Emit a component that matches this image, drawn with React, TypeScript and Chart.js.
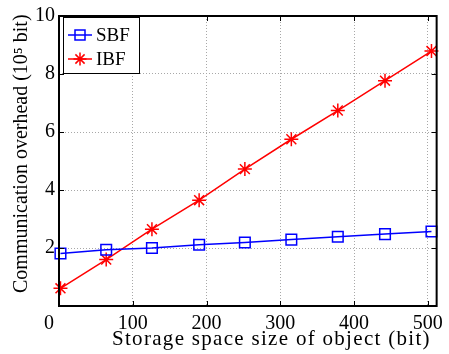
import React, { useEffect, useRef } from "react";
import { Chart, registerables } from "chart.js";
Chart.register(...registerables);

const xValues = [2, 64, 126, 190, 252, 315, 378, 442, 505];
const sbfValues = [1.81, 1.94, 2.0, 2.11, 2.19, 2.29, 2.39, 2.48, 2.57];
const ibfValues = [0.61, 1.6, 2.65, 3.65, 4.72, 5.75, 6.74, 7.77, 8.79];
const xTicks = [0, 100, 200, 300, 400, 500];
const yTicks = [0, 2, 4, 6, 8, 10];
const seriesNames = ["SBF", "IBF"];
const xTitle = "Storage space size of object (bit)";
const yTitle = "Communication overhead (10\u2075 bit)";

const FONT = "'Liberation Serif', 'Times New Roman', serif";
const BLUE = "#0000ff";
const RED = "#ff0000";

function drawMarker(ctx: CanvasRenderingContext2D, style: string, x: number, y: number, color: string) {
  ctx.save();
  ctx.strokeStyle = color;
  ctx.lineWidth = 1.5;
  ctx.beginPath();
  if (style === "rect") {
    ctx.rect(x - 5, y - 5, 10, 10);
  } else {
    const r = 6.5;
    for (let i = 0; i < 4; i++) {
      const a = (i * Math.PI) / 4;
      ctx.moveTo(x - Math.cos(a) * r, y - Math.sin(a) * r);
      ctx.lineTo(x + Math.cos(a) * r, y + Math.sin(a) * r);
    }
  }
  ctx.stroke();
  ctx.restore();
}

const framePlugin = {
  id: "frame",
  afterDraw(chart: any) {
    const { ctx, chartArea: a, scales } = chart;
    ctx.save();
    // inward tick marks
    ctx.strokeStyle = "#000";
    ctx.lineWidth = 1;
    const tl = 5;
    ctx.beginPath();
    for (const v of xTicks) {
      const px = Math.round(scales.x.getPixelForValue(v)) + 0.5;
      ctx.moveTo(px, a.bottom);
      ctx.lineTo(px, a.bottom - tl);
      ctx.moveTo(px, a.top);
      ctx.lineTo(px, a.top + tl);
    }
    for (const v of yTicks) {
      const py = Math.round(scales.y.getPixelForValue(v)) + 0.5;
      ctx.moveTo(a.left, py);
      ctx.lineTo(a.left + tl, py);
      ctx.moveTo(a.right, py);
      ctx.lineTo(a.right - tl, py);
    }
    ctx.stroke();
    // box
    ctx.lineWidth = 2;
    ctx.strokeRect(a.left, a.top, a.right - a.left, a.bottom - a.top);

    // axis titles
    ctx.fillStyle = "#000";
    ctx.font = `21px ${FONT}`;
    ctx.textAlign = "left";
    ctx.textBaseline = "alphabetic";
    (ctx as any).letterSpacing = "1.3px";
    ctx.fillText(xTitle, 112, 345);
    (ctx as any).letterSpacing = "0px";
    ctx.font = `20px ${FONT}`;
    ctx.save();
    ctx.translate(27, 293);
    ctx.rotate(-Math.PI / 2);
    ctx.fillText(yTitle, 0, 0);
    ctx.restore();

    // legend
    const lx = a.left + 4;
    const ly = a.top + 1;
    const lw = 76;
    const lh = 56;
    ctx.fillStyle = "#fff";
    ctx.fillRect(lx, ly, lw, lh);
    ctx.lineWidth = 1;
    ctx.strokeStyle = "#000";
    ctx.strokeRect(lx + 0.5, ly + 0.5, lw, lh);
    const colors = [BLUE, RED];
    const styles = ["rect", "star"];
    ctx.font = `19px ${FONT}`;
    ctx.textBaseline = "middle";
    ctx.textAlign = "left";
    seriesNames.forEach((name, i) => {
      const yy = ly + 18 + i * 24;
      ctx.strokeStyle = colors[i];
      ctx.lineWidth = 1.5;
      ctx.beginPath();
      ctx.moveTo(lx + 5, yy);
      ctx.lineTo(lx + 29, yy);
      ctx.stroke();
      drawMarker(ctx, styles[i], lx + 17, yy, colors[i]);
      ctx.fillStyle = "#000";
      ctx.fillText(name, lx + 33, yy + 1);
    });
    ctx.restore();
  },
};

export default function App() {
  const ref = useRef<HTMLCanvasElement>(null);
  useEffect(() => {
    if (!ref.current) return;
    const chart = new Chart(ref.current, {
      type: "line",
      data: {
        datasets: [
          {
            label: seriesNames[0],
            data: xValues.map((x, i) => ({ x, y: sbfValues[i] })),
            borderColor: BLUE,
            backgroundColor: "transparent",
            borderWidth: 1.5,
            pointStyle: "rect",
            pointRadius: 7.5,
            pointBorderWidth: 1.5,
            pointBorderColor: BLUE,
            pointBackgroundColor: "transparent",
            tension: 0,
            clip: false,
          },
          {
            label: seriesNames[1],
            data: xValues.map((x, i) => ({ x, y: ibfValues[i] })),
            borderColor: RED,
            backgroundColor: "transparent",
            borderWidth: 1.5,
            pointStyle: "star",
            pointRadius: 7,
            pointBorderWidth: 1.5,
            pointBorderColor: RED,
            pointBackgroundColor: "transparent",
            tension: 0,
            clip: false,
          },
        ],
      },
      options: {
        responsive: false,
        animation: false,
        events: [],
        layout: { padding: { top: 14, right: 5, left: 0, bottom: 0 } },
        plugins: { legend: { display: false }, tooltip: { enabled: false } },
        scales: {
          x: {
            type: "linear",
            min: 0,
            max: 512,
            afterBuildTicks: (s: any) => {
              s.ticks = xTicks.map((v) => ({ value: v }));
            },
            afterFit: (s: any) => {
              s.height = 48;
            },
            ticks: {
              autoSkip: false,
              maxRotation: 0,
              padding: 6,
              color: "#000",
              font: { family: FONT, size: 20 },
              callback: (v: any) => (v === 0 ? "0\u2002\u2002" : String(v)),
            },
            grid: { color: "#a8a8a8", lineWidth: 1, drawTicks: false },
            border: { display: false, dash: [1, 2] },
            title: { display: false },
          },
          y: {
            type: "linear",
            min: 0,
            max: 10,
            afterBuildTicks: (s: any) => {
              s.ticks = yTicks.map((v) => ({ value: v }));
            },
            afterFit: (s: any) => {
              s.width = 59;
            },
            ticks: {
              autoSkip: false,
              padding: 4,
              color: "#000",
              font: { family: FONT, size: 20 },
              callback: (v: any) => (v === 0 ? "" : String(v)),
            },
            grid: { color: "#a8a8a8", lineWidth: 1, drawTicks: false },
            border: { display: false, dash: [1, 2] },
            title: { display: false },
          },
        },
      },
      plugins: [framePlugin],
    } as any);
    return () => chart.destroy();
  }, []);
  return (
    <div style={{ position: "absolute", left: 0, top: 0, width: 449, height: 354, background: "#fff" }}>
      <canvas ref={ref} width={449} height={354} style={{ display: "block" }} />
    </div>
  );
}
